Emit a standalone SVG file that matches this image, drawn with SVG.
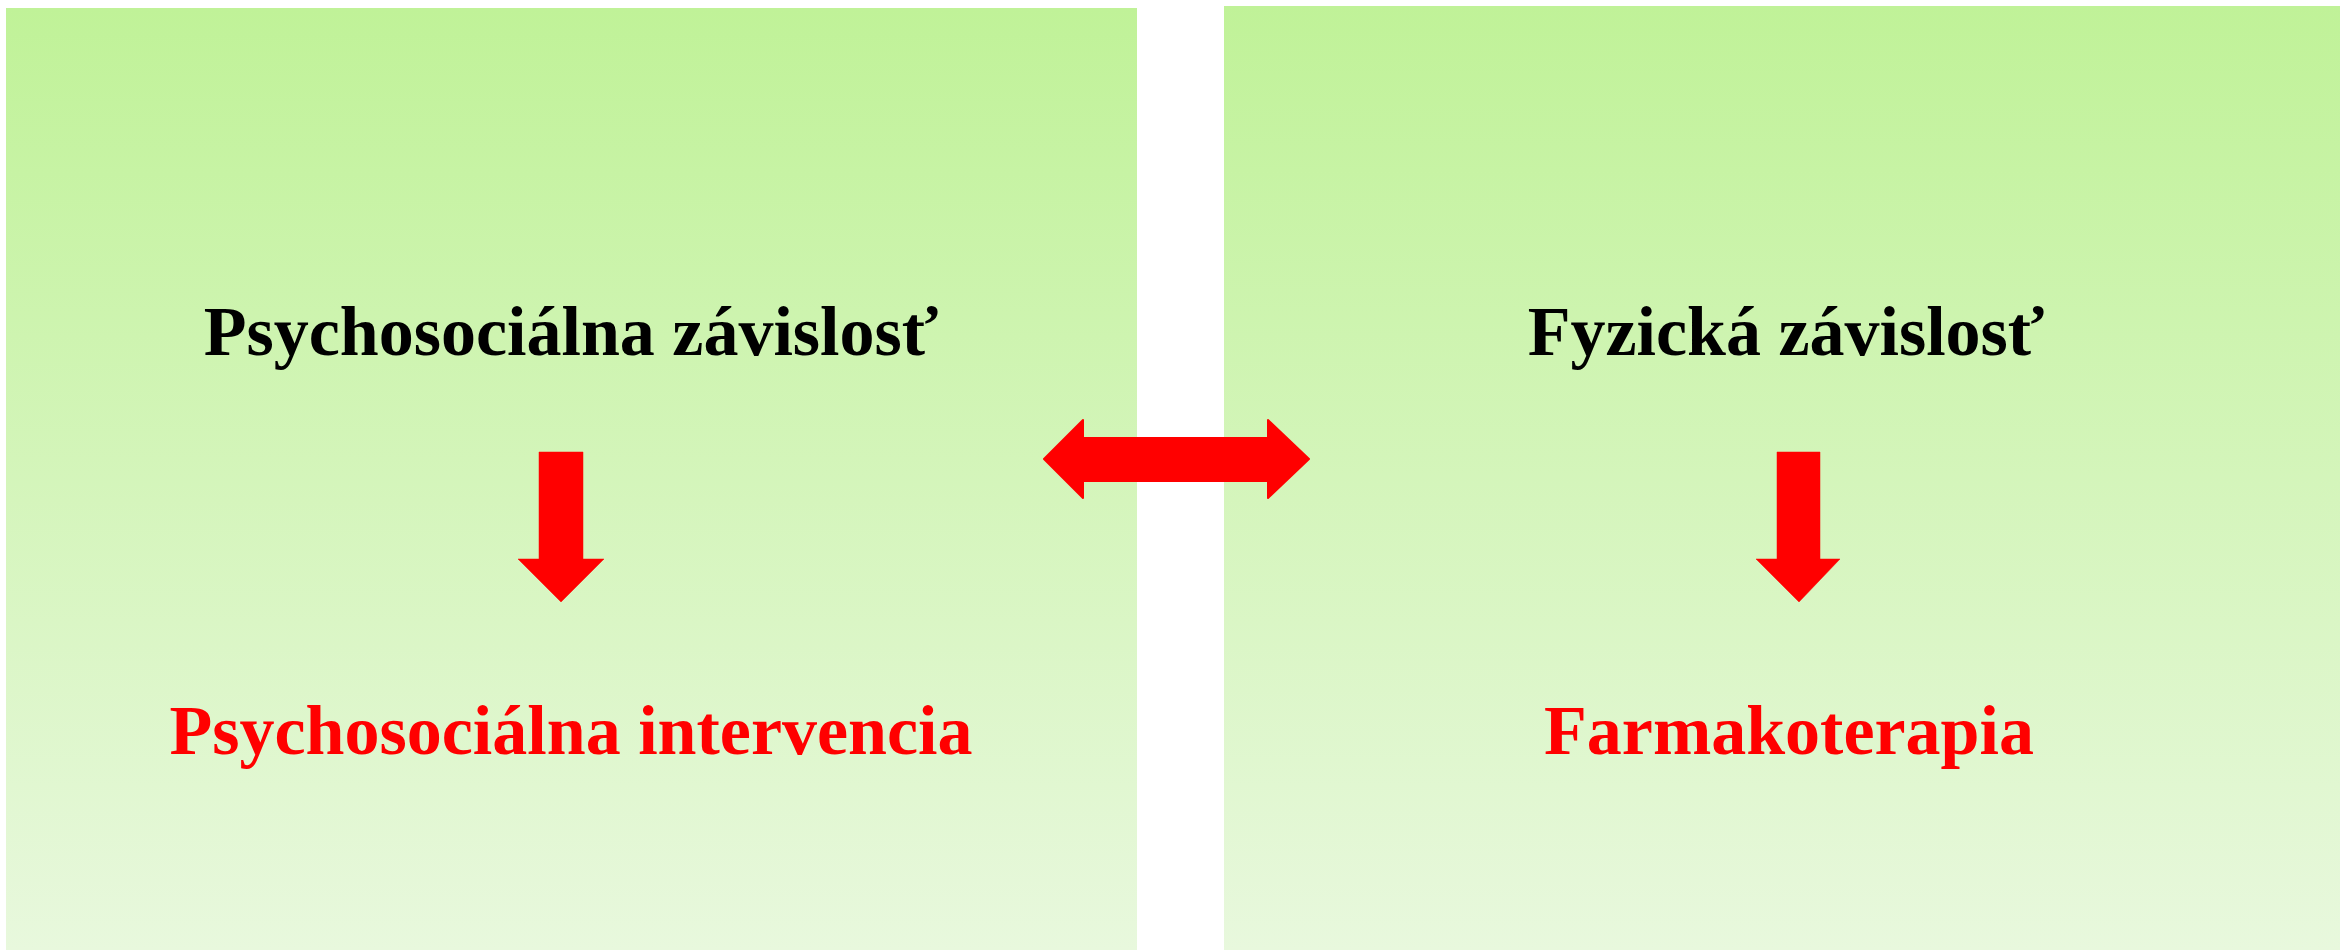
<svg xmlns="http://www.w3.org/2000/svg" width="2340" height="950" viewBox="0 0 2340 950">
  <defs>
    <linearGradient id="panelGrad" x1="0" y1="0" x2="0" y2="1">
      <stop offset="0" stop-color="#c0f298"/>
      <stop offset="1" stop-color="#e8f8dd"/>
    </linearGradient>
  </defs>
  <style>
    .panel { fill: url(#panelGrad); }
    .title { font-family: "Liberation Serif", "Times New Roman", serif; font-weight: bold; font-size: 70px; fill: #000000; text-anchor: middle; }
    .result { font-family: "Liberation Serif", "Times New Roman", serif; font-weight: bold; font-size: 70px; fill: #ff0000; text-anchor: middle; }
    .arrow { fill: #ff0000; stroke: #ff0000; stroke-width: 2; stroke-linejoin: round; }
    .darrow { fill: #ff0000; stroke: #ff0000; stroke-width: 0.5; }
  </style>
  <rect width="2340" height="950" fill="#ffffff"/>
  <g id="panel-left">
    <rect class="panel" x="6" y="8" width="1131" height="942"/>
    <text class="title" x="571" y="355">Psychosociálna závislosť</text>
    <text class="result" x="571" y="754">Psychosociálna intervencia</text>
  </g>
  <g id="panel-right">
    <rect class="panel" x="1224" y="6" width="1116" height="944"/>
    <text class="title" x="1786" y="355">Fyzická závislosť</text>
    <text class="result" x="1789" y="754">Farmakoterapia</text>
  </g>
  <g id="connectors">
    <polygon id="arrow-both" class="arrow" points="1044,459 1083,420 1083,438 1268,438 1268,420 1309,459 1268,498 1268,481 1083,481 1083,498"/>
    <polygon id="arrow-left-down" class="darrow" points="539,452 583,452 583,559 604,559 561,602 518,559 539,559"/>
    <polygon id="arrow-right-down" class="darrow" points="1777,452 1820,452 1820,559 1840,559 1799,602 1756,559 1777,559"/>
  </g>
</svg>
